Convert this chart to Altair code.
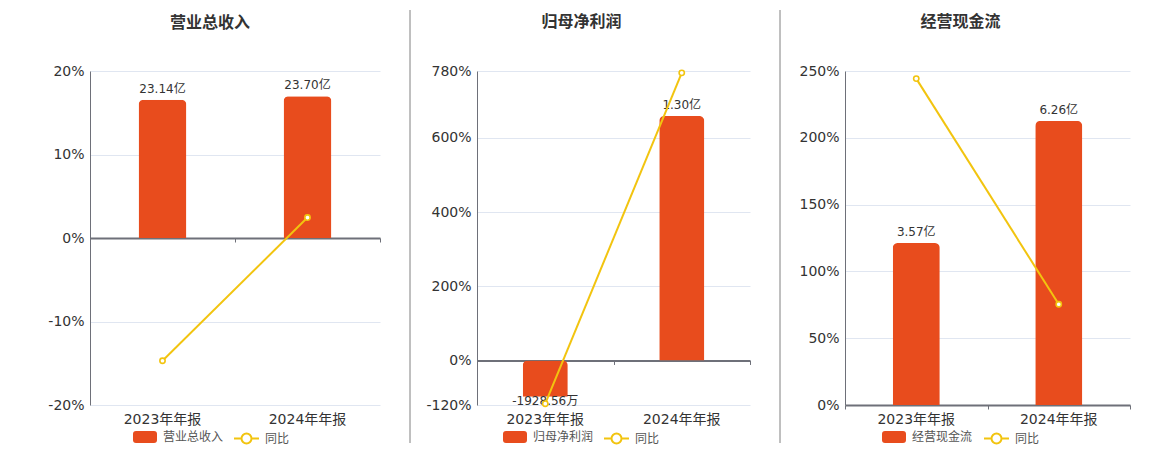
import altair as alt
import pandas as pd

periods = ['2023年年报', '2024年年报']
titles = ['营业总收入', '归母净利润', '经营现金流']
values_1 = [23.14, 23.70]
values_2 = [-0.192856, 1.30]
values_3 = [3.57, 6.26]
labels_1 = ['23.14亿', '23.70亿']
labels_2 = ['-1928.56万', '1.30亿']
labels_3 = ['3.57亿', '6.26亿']
yoy_1 = [-14.7, 2.45]
yoy_2 = [-116.5, 775.0]
yoy_3 = [244.3, 75.4]
pct_domains = [[-20, 20], [-120, 780], [0, 250]]
pct_ticks = [[-20, -10, 0, 10, 20], [-120, 0, 200, 400, 600, 780], [0, 50, 100, 150, 200, 250]]
bar_domains = [[-27.93, 27.93], [-0.237, 1.54], [0, 7.36]]
yoy_name = '同比'

RED = '#E84C1D'
YEL = '#F2C40F'
AXC = '#6E7079'
GRID = '#E0E6F1'
TXT = '#333333'
FONT = 'DejaVu Sans, Noto Sans CJK SC'

H = 334
widths = [290, 273, 285]
leg_bar_x = [49, 32, 43]
leg_line_x = [149, 132, 144]
sep_x = [None, -67, -65]
title_offsets = [33, -20, -20]
title_dx = [-25, -32, -27]

BAR_PATH = ("M-1.5,-1 L1.5,-1 Q2,-1 2,-0.5 L2,0.5 Q2,1 1.5,1 L-1.5,1 "
            "Q-2,1 -2,0.5 L-2,-0.5 Q-2,-1 -1.5,-1 Z")
LINE_PATH = ("M-2,0 L-0.8,0 M0.8,0 L2,0 M0.8,0 A0.8,0.8 0 1,1 -0.8,0 "
             "A0.8,0.8 0 1,1 0.8,0 Z")


def panel(i, values, labels, yoy):
    name = titles[i]
    df = pd.DataFrame({'period': periods, 'value': values, 'label': labels,
                       'yoy': yoy, 'name': name, 'series': yoy_name})
    d0, d1 = pct_domains[i]
    off = -H * (0 - d0) / (d1 - d0)
    xscale = alt.Scale(paddingInner=0, paddingOuter=0, domain=periods)
    x_lab = alt.X('period:N', scale=xscale, sort=periods,
                  axis=alt.Axis(orient='bottom', domain=False, ticks=False, grid=False,
                                labelFontSize=14, labelColor=TXT, labelPadding=7,
                                labelAngle=0, title=None, labelFont=FONT))
    x_zero = alt.X('period:N', scale=xscale, sort=periods,
                   axis=alt.Axis(orient='bottom', offset=off, labels=False, domain=True,
                                 domainColor=AXC, domainWidth=2, ticks=True,
                                 tickBand='extent', tickSize=4, tickColor=AXC,
                                 grid=False, title=None))
    ybar = alt.Y('value:Q', scale=alt.Scale(domain=bar_domains[i], nice=False, zero=False),
                 axis=None)
    base = alt.Chart(df)
    bars = base.mark_bar(width=alt.RelativeBandSize(0.33), cornerRadiusEnd=5).encode(
        x=x_lab, y=ybar,
        color=alt.Color('name:N', scale=alt.Scale(domain=[name], range=[RED]),
                        legend=alt.Legend(orient='none', legendX=leg_bar_x[i], legendY=360,
                                          title=None, symbolType=BAR_PATH, symbolSize=144,
                                          symbolStrokeWidth=0, labelFontSize=12,
                                          labelColor='#555555', labelOffset=12,
                                          labelFont=FONT, padding=0)))
    txt_pos = base.transform_filter('datum.value >= 0').mark_text(
        baseline='bottom', dy=-4, fontSize=12, color=TXT, font=FONT).encode(
        x=x_lab, y=ybar, text='label:N')
    txt_neg = base.transform_filter('datum.value < 0').mark_text(
        baseline='top', dy=-1, fontSize=12, color=TXT, font=FONT).encode(
        x=x_lab, y=ybar, text='label:N')
    layers = [bars, txt_pos, txt_neg]
    if sep_x[i] is not None:
        sep = base.mark_rule(color='#AAAAAA', strokeWidth=1).encode(
            x=alt.value(sep_x[i]), y=alt.value(-61), y2=alt.value(372))
        layers.append(sep)
    bar_group = alt.layer(*layers)

    ypct = alt.Y('yoy:Q', scale=alt.Scale(domain=pct_domains[i], nice=False, zero=False),
                 axis=alt.Axis(values=pct_ticks[i], labelExpr="datum.value + '%'",
                               grid=True, gridColor=GRID, gridWidth=1, domain=True,
                               domainColor=AXC, domainWidth=1, ticks=False,
                               labelFontSize=14, labelColor=TXT, labelPadding=6,
                               title=None, labelFont=FONT))
    line = base.mark_line(color=YEL, strokeWidth=2).encode(x=x_zero, y=ypct)
    pts = base.mark_point(shape='circle', filled=True, fill='white', size=28,
                          strokeWidth=1.6, opacity=1).encode(
        x=x_zero, y=ypct,
        stroke=alt.Stroke('series:N', scale=alt.Scale(domain=[yoy_name], range=[YEL]),
                          legend=alt.Legend(orient='none', legendX=leg_line_x[i],
                                            legendY=360, title=None,
                                            symbolType=LINE_PATH, symbolSize=156,
                                            symbolStrokeWidth=2, symbolFillColor='white',
                                            labelFontSize=12, labelColor='#555555',
                                            labelOffset=11, labelFont=FONT, padding=0)))
    line_group = alt.layer(line, pts)

    return alt.layer(bar_group, line_group).resolve_scale(
        y='independent').resolve_axis(x='independent').properties(
        width=widths[i], height=H,
        title=alt.TitleParams(name, fontSize=16, fontWeight='bold', color=TXT,
                              frame='group', offset=title_offsets[i], anchor='middle',
                              dx=title_dx[i], font=FONT))


p1 = panel(0, values_1, labels_1, yoy_1)
p2 = panel(1, values_2, labels_2, yoy_2)
p3 = panel(2, values_3, labels_3, yoy_3)

chart = alt.hconcat(p1, p2, p3, spacing=28).resolve_scale(
    color='independent', stroke='independent').resolve_legend(
    color='independent', stroke='independent').properties(
    padding={'left': 39, 'top': 1, 'right': 5, 'bottom': 5},
    background='white').configure(font=FONT).configure_view(stroke='transparent')

chart.save('out.html', embed_options={'renderer': 'svg', 'actions': False})
